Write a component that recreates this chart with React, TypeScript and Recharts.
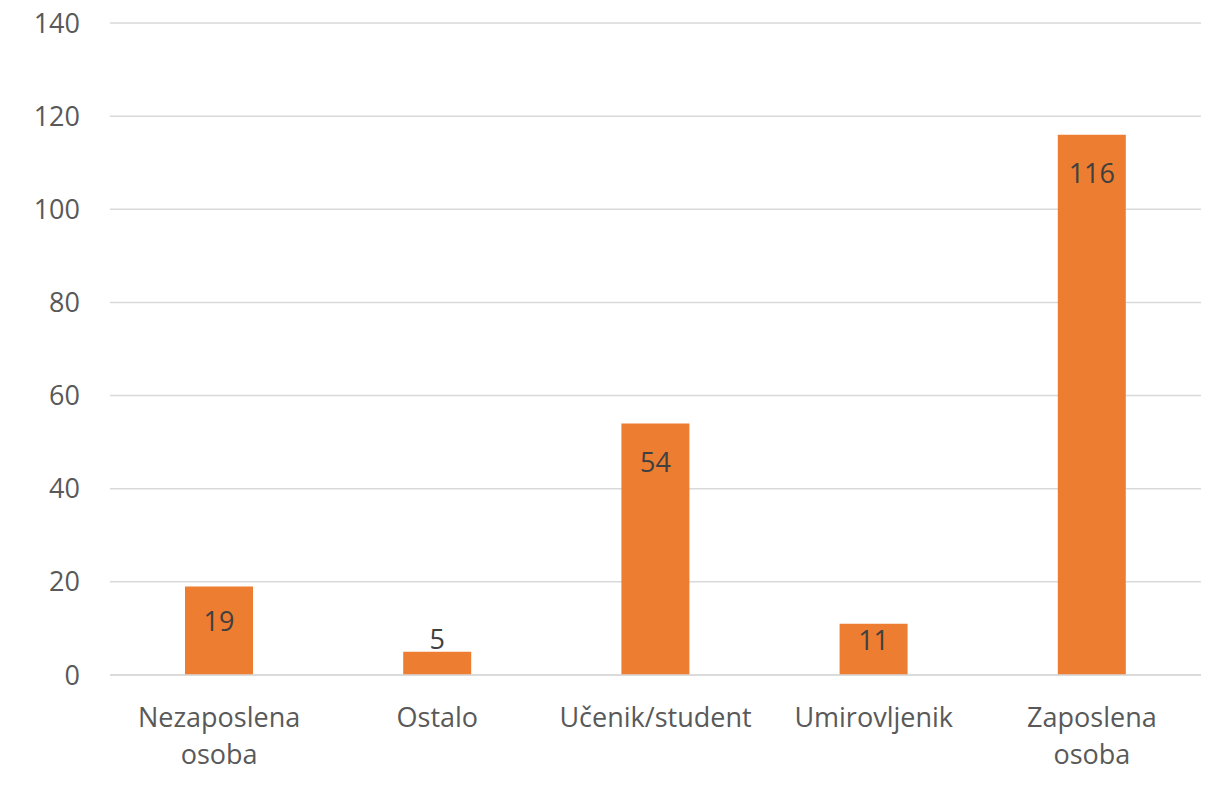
import { BarChart, Bar, XAxis, YAxis, CartesianGrid, LabelList } from 'recharts'

const categories = ['Nezaposlena osoba', 'Ostalo', 'Učenik/student', 'Umirovljenik', 'Zaposlena osoba']
const counts = [19, 5, 54, 11, 116]
const yTicks = [0, 20, 40, 60, 80, 100, 120, 140]

const chartData = categories.map((name, i) => ({ name, value: counts[i] }))

const FONT = '"Open Sans", "Noto Sans", sans-serif'
const FS = 27

function CategoryTick(props: any) {
  const { x, y, payload } = props
  const lines = String(payload.value).split(' ')
  return (
    <text x={x} y={y} textAnchor="middle" fill="#595959" fontSize={FS} fontFamily={FONT}>
      {lines.map((line, i) => (
        <tspan key={i} x={x} dy={i === 0 ? 44 : 37}>
          {line}
        </tspan>
      ))}
    </text>
  )
}

function ValueLabel(props: any) {
  const { x, y, width, height, value } = props
  const cx = x + width / 2
  let cy: number
  if (height < 30) cy = y - 13
  else cy = y + Math.min(38, height / 2 - 10)
  return (
    <text x={cx} y={cy} textAnchor="middle" dominantBaseline="central" fill="#404040" fontSize={FS} fontFamily={FONT}>
      {value}
    </text>
  )
}

export default function App() {
  return (
    <div style={{ position: 'fixed', left: 0, top: 0, width: 1209, height: 796, background: '#fff' }}>
      <BarChart
        width={1209}
        height={796}
        data={chartData}
        margin={{ top: 23, right: 8, left: 0, bottom: 0 }}
      >
        <CartesianGrid vertical={false} stroke="#d9d9d9" strokeWidth={1.5} />
        <XAxis
          dataKey="name"
          axisLine={{ stroke: '#d9d9d9', strokeWidth: 1.5 }}
          tickLine={false}
          height={121}
          interval={0}
          tick={<CategoryTick />}
        />
        <YAxis
          domain={[0, 140]}
          ticks={yTicks}
          width={110}
          axisLine={false}
          tickLine={false}
          tickSize={0}
          tickMargin={30}
          tick={{ fill: '#595959', fontSize: FS, fontFamily: FONT }}
        />
        <Bar dataKey="value" fill="#ED7D31" barSize={68} isAnimationActive={false}>
          <LabelList dataKey="value" content={<ValueLabel />} />
        </Bar>
      </BarChart>
    </div>
  )
}
